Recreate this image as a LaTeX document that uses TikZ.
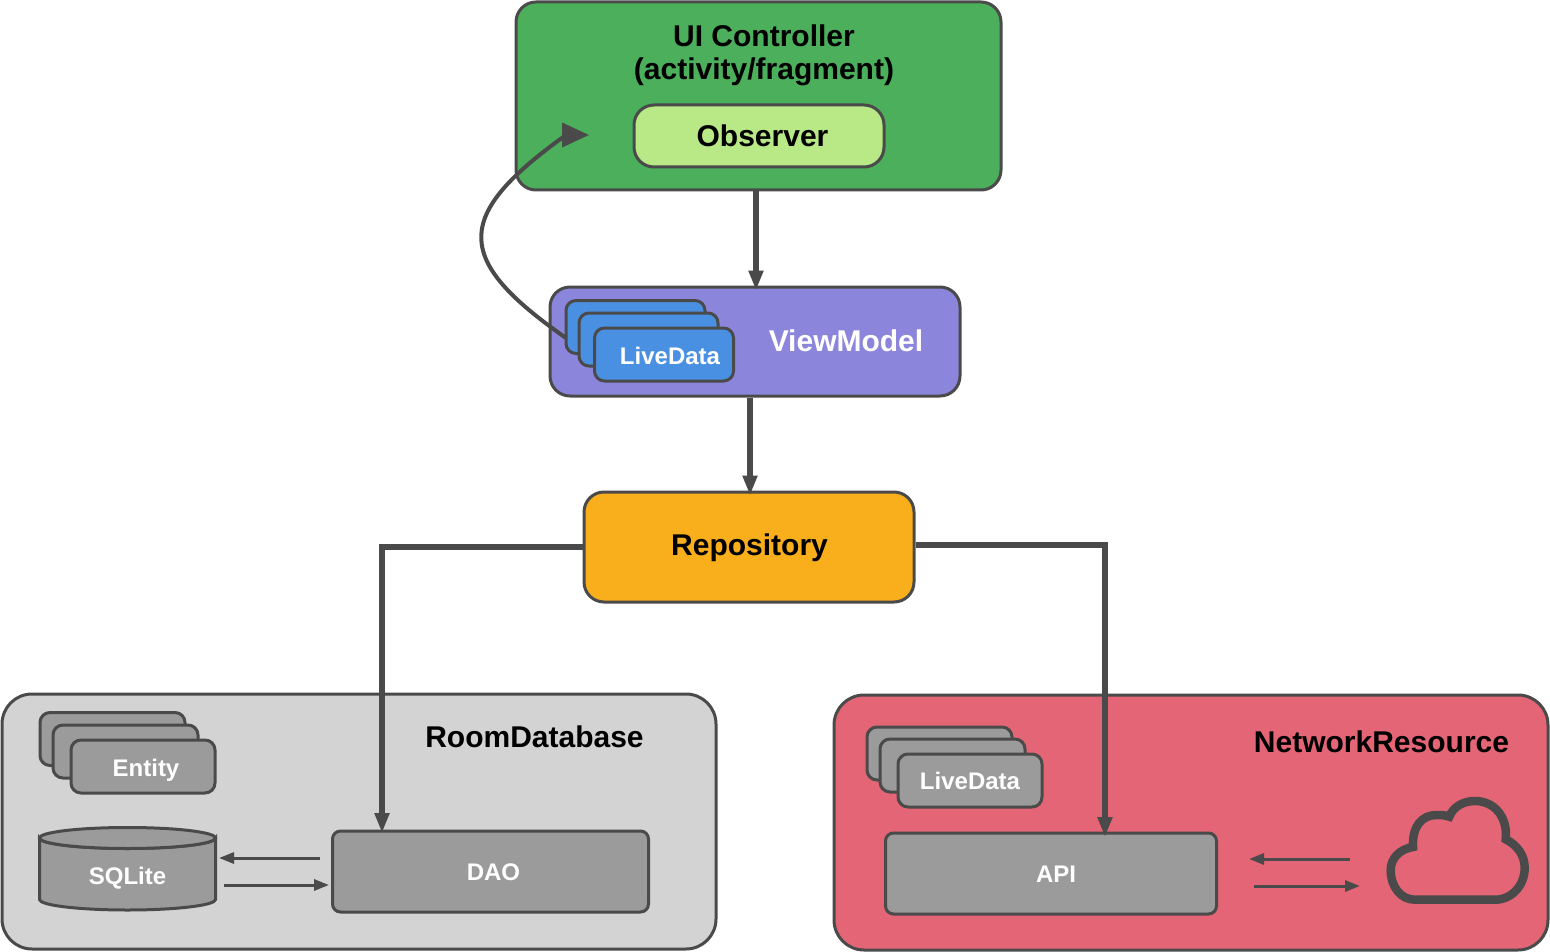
\documentclass[tikz,border=0pt]{standalone}
\usepackage{fontspec}
\setmainfont{Liberation Sans}
\usepackage{tikz}
\usetikzlibrary{arrows.meta}
\definecolor{edgegray}{HTML}{4A4A4A}
\definecolor{uigreen}{HTML}{4CAF5B}
\definecolor{obsgreen}{HTML}{B8E986}
\definecolor{vmpurple}{HTML}{8C85DC}
\definecolor{ldblue}{HTML}{4A90E2}
\definecolor{repoorange}{HTML}{F9AE1C}
\definecolor{roomgray}{HTML}{D3D3D3}
\definecolor{netpink}{HTML}{E46676}
\definecolor{partgray}{HTML}{9B9B9B}
\tikzset{
  box/.style={draw=edgegray, line width=3pt, rounded corners=20pt, inner sep=0pt},
  smallbox/.style={box, rounded corners=10pt, fill=partgray},
  bigtext/.style={font=\fontsize{30}{36}\selectfont\bfseries, anchor=base, inner sep=0pt},
  smalltext/.style={font=\fontsize{24}{29}\selectfont\bfseries, anchor=base, inner sep=0pt, text=white},
  mainarrow/.style={draw=edgegray, line width=5.5pt, shorten >=-2pt, -{Triangle[length=20pt,width=14pt]}},
  smallarrow/.style={draw=edgegray, line width=3pt, -{Triangle[length=15pt,width=11pt]}},
}
\begin{document}
\begin{tikzpicture}[x=1pt,y=-1pt]
\useasboundingbox (0,0) rectangle (1550,952);
% outer boxes
\node[box, fill=uigreen, minimum width=485, minimum height=188] (ui) at (758.5,96) {};
\node[box, fill=obsgreen, minimum width=250, minimum height=62] (observer) at (759,136) {};
\node[box, fill=vmpurple, minimum width=410, minimum height=109] (vm) at (755,341.5) {};
\node[box, fill=repoorange, minimum width=330, minimum height=110] (repo) at (749,547) {};
\node[box, fill=roomgray, rounded corners=30pt, minimum width=714, minimum height=255] (room) at (359,821.5) {};
\node[box, fill=netpink, rounded corners=30pt, minimum width=714, minimum height=255] (net) at (1191,822.5) {};
% stacks
\node[smallbox, fill=ldblue, minimum width=139, minimum height=53] (ldback) at (635.5,327) {};
\node[smallbox, fill=ldblue, minimum width=139, minimum height=53] (ldmid) at (648.5,339.5) {};
\node[smallbox, fill=ldblue, minimum width=139, minimum height=53] (ldfront) at (664,354.5) {};
\node[smallbox, minimum width=145, minimum height=53] (entback) at (112.5,739) {};
\node[smallbox, minimum width=145, minimum height=53] (entmid) at (125.5,751.5) {};
\node[smallbox, minimum width=144, minimum height=53] (entfront) at (143,766.5) {};
\node[smallbox, minimum width=145, minimum height=53] (apiback) at (939.5,753.5) {};
\node[smallbox, minimum width=145, minimum height=53] (apimid) at (952.5,765.5) {};
\node[smallbox, minimum width=144, minimum height=53] (apifront) at (970,780.5) {};
% parts
\node[smallbox, rounded corners=8pt, minimum width=316, minimum height=81] (dao) at (490.5,871.5) {};
\node[smallbox, rounded corners=8pt, minimum width=331, minimum height=81] (api) at (1051,873.5) {};
\draw[edgegray, line width=3pt, fill=partgray] (39.5,838) -- (39.5,899.5) arc[x radius=88, y radius=10.5, start angle=180, end angle=0] -- (215.5,838) arc[x radius=88, y radius=10.5, start angle=0, end angle=180] -- cycle;
\draw[edgegray, line width=3pt, fill=partgray] (127.5,838) ellipse[x radius=88, y radius=10.5];
\draw[edgegray, line width=8.5pt] (1415,899.7) -- (1495,899.7) .. controls (1512,899.7) and (1524.7,885) .. (1524.7,868) .. controls (1524.7,855) and (1517,845) .. (1505.7,839.3) .. controls (1508,818) and (1495,801) .. (1475,801) .. controls (1463,801) and (1453,807) .. (1449.3,816.7) .. controls (1445,815) and (1441,815) .. (1436.7,815) .. controls (1422,815) and (1412,826) .. (1413,847) .. controls (1400,849) and (1390.7,858) .. (1390.7,870) .. controls (1390.7,887) and (1401,899.7) .. (1415,899.7) -- cycle;
% labels
\node[bigtext] (uititle) at (764,47) {UI Controller};
\node[bigtext] (uisub) at (764,80) {(activity/fragment)};
\node[bigtext] (observertext) at (762.5,147) {Observer};
\node[bigtext, text=white] (vmtext) at (846,351) {ViewModel};
\node[smalltext] (ldtext) at (670,364) {LiveData};
\node[bigtext] (repotext) at (749.5,555) {Repository};
\node[bigtext] (roomtext) at (534.5,747) {RoomDatabase};
\node[bigtext] (nettext) at (1381.5,752) {NetworkResource};
\node[smalltext] (enttext) at (146,776) {Entity};
\node[smalltext] (sqltext) at (127.5,884) {SQLite};
\node[smalltext] (daotext) at (493.5,880) {DAO};
\node[smalltext] (apitext) at (1056,882) {API};
\node[smalltext] (apildtext) at (970,789) {LiveData};
% free ends of connectors
\coordinate (obsin) at (589,135);
\coordinate (obsbend) at (566,135);
\coordinate (ldout) at (566,338);
\coordinate (daoin) at (382,831);
\coordinate (apiin) at (1105,835);
\coordinate (daol) at (320,858);
\coordinate (sqlr) at (219,858);
\coordinate (sqlo) at (224,885);
\coordinate (daor) at (329,885);
\coordinate (cloudl) at (1350,859);
\coordinate (apir) at (1249,859);
\coordinate (apio) at (1254,886);
\coordinate (cloudr) at (1360,886);
% connectors
\draw[mainarrow] (ui.south -| vm.north) ++(1,0) -- ++(0,97);
\draw[mainarrow] (repo.north |- vm.south) ++(1,0) -- ++(0,96);
\draw[mainarrow] (repo.west) -| (daoin);
\draw[mainarrow] ([yshift=2pt]repo.east) -| (apiin);
\draw[draw=edgegray, line width=4pt, -{Triangle[length=27pt,width=24pt]}] (ldout) .. controls (453,259) and (453,216) .. (obsbend) -- (obsin);
\draw[smallarrow] (daol) -- (sqlr);
\draw[smallarrow] (sqlo) -- (daor);
\draw[smallarrow] (cloudl) -- (apir);
\draw[smallarrow] (apio) -- (cloudr);
\end{tikzpicture}
\end{document}
